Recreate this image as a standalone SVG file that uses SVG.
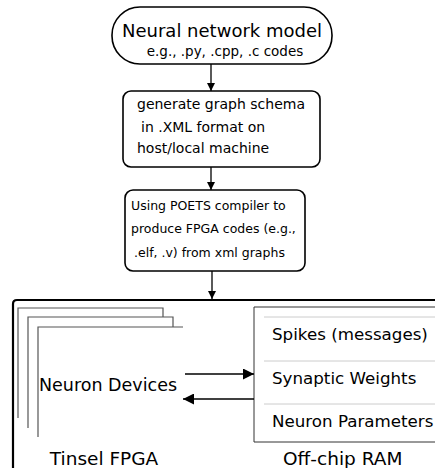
<svg xmlns="http://www.w3.org/2000/svg" width="435" height="468" viewBox="0 0 435 468">
<defs>
<style>
text{font-family:"DejaVu Sans","Liberation Sans",sans-serif;fill:#000}
.box{fill:#fff;stroke:#000;stroke-width:1.6}
.conn{stroke:#000;stroke-width:1.3;fill:none}
.stack{fill:none;stroke:#555;stroke-width:1.2}
.sep{stroke:#ccc;stroke-width:1}
</style>
<marker id="ah" viewBox="0 0 10 10" refX="10" refY="5" markerWidth="8" markerHeight="8" markerUnits="userSpaceOnUse" orient="auto"><path d="M0,0 L10,5 L0,10 z" fill="#000"/></marker>
<marker id="ahb" viewBox="0 0 10 10" refX="10" refY="5" markerWidth="11" markerHeight="11" markerUnits="userSpaceOnUse" orient="auto"><path d="M0,0 L10,5 L0,10 z" fill="#000"/></marker>
</defs>
<rect width="435" height="468" fill="#fff"/>
<g id="model">
<rect class="box" x="112" y="7" width="220" height="57" rx="28" ry="28"/>
<text x="222" y="37" font-size="18" text-anchor="middle">Neural network model</text>
<text x="225" y="56" font-size="13.5" text-anchor="middle">e.g., .py, .cpp, .c codes</text>
</g>
<g id="schema">
<rect class="box" x="123" y="91" width="197" height="76" rx="8" ry="8"/>
<text x="137" y="109" font-size="14">generate graph schema</text>
<text x="141" y="132" font-size="14">in .XML format on</text>
<text x="137" y="153" font-size="14">host/local machine</text>
</g>
<g id="compiler">
<rect class="box" x="125" y="190" width="180" height="81" rx="8" ry="8"/>
<text x="131" y="210" font-size="12.5">Using POETS compiler to</text>
<text x="131" y="233" font-size="12.5">produce FPGA codes (e.g.,</text>
<text x="134" y="257" font-size="12.5">.elf, .v) from xml graphs</text>
</g>
<g id="tinsel">
<path d="M13,470 L13,304 Q13,300 17,300 L440,300" fill="none" stroke="#000" stroke-width="2.2"/>
<path class="stack" d="M18,418 L18,308 L163,308 L163,317"/>
<path class="stack" d="M28,428 L28,317 L173,317 L173,327"/>
<path class="stack" d="M38,437 L38,327 L183,327"/>
<text x="108" y="391" font-size="17.5" text-anchor="middle">Neuron Devices</text>
<text x="104" y="465" font-size="18.5" text-anchor="middle">Tinsel FPGA</text>
</g>
<g id="ram">
<path d="M440,307 L254,307 L254,442 L440,442" fill="#fff" stroke="#333" stroke-width="1"/>
<line class="sep" x1="264" y1="317" x2="435" y2="317"/>
<line class="sep" x1="264" y1="361" x2="435" y2="361"/>
<line class="sep" x1="264" y1="404" x2="435" y2="404"/>
<text x="272" y="340" font-size="16.7">Spikes (messages)</text>
<text x="272" y="384" font-size="16.7">Synaptic Weights</text>
<text x="272" y="427" font-size="16.7">Neuron Parameters</text>
<text x="283" y="465" font-size="18.5">Off-chip RAM</text>
</g>
<g id="connectors">
<line class="conn" x1="211" y1="64" x2="211" y2="91" marker-end="url(#ah)"/>
<line class="conn" x1="211" y1="167" x2="211" y2="190" marker-end="url(#ah)"/>
<line class="conn" x1="212" y1="271" x2="212" y2="299" marker-end="url(#ah)"/>
<line class="conn" x1="185" y1="374" x2="254" y2="374" marker-end="url(#ahb)"/>
<line class="conn" x1="254" y1="399" x2="183" y2="399" marker-end="url(#ahb)"/>
</g>
</svg>
